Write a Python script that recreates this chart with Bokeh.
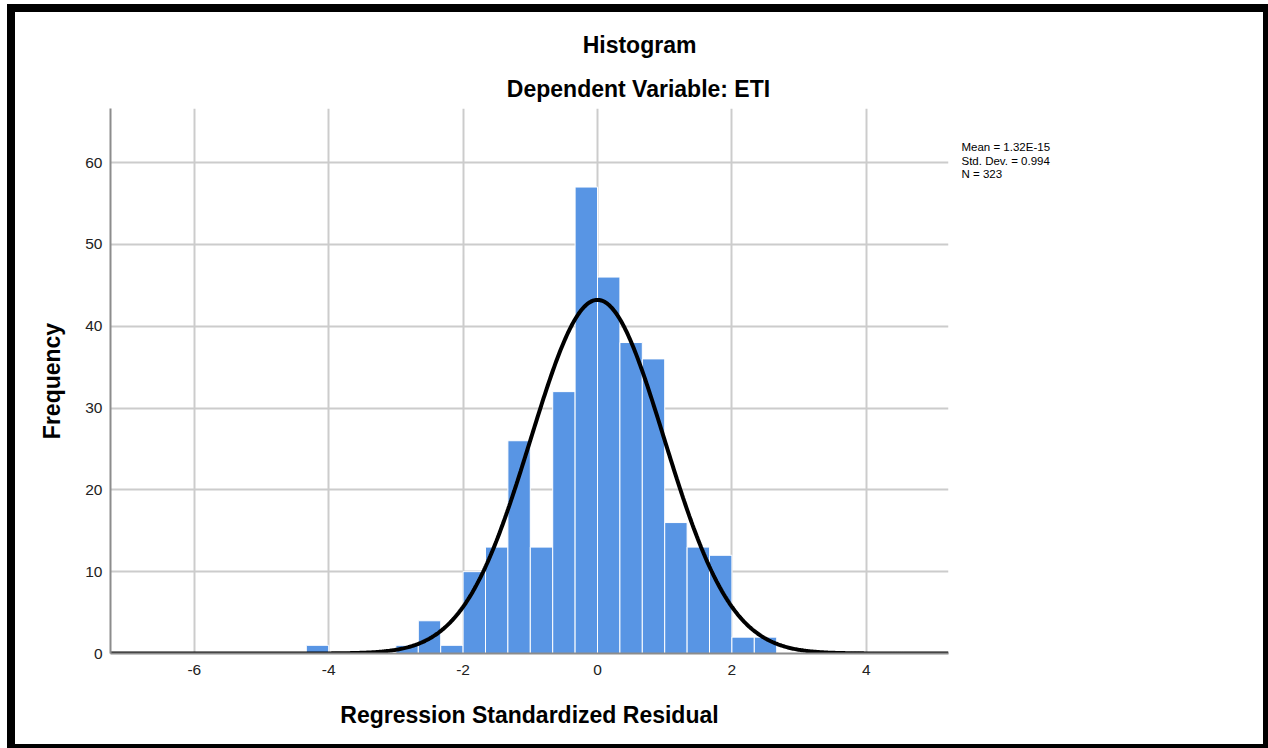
import numpy as np
from bokeh.plotting import figure
from bokeh.layouts import column, row
from bokeh.models import Range1d, FixedTicker, Label, PrintfTickFormatter
from bokeh.embed import file_html
from bokeh.resources import INLINE

# ---------------- data ----------------
bin_width = 1 / 3
bin_lefts = [-13/3, -3, -8/3, -7/3, -2, -5/3, -4/3, -1, -2/3, -1/3,
             0, 1/3, 2/3, 1, 4/3, 5/3, 2, 7/3]
counts = [1, 1, 4, 1, 10, 13, 26, 13, 32, 57, 46, 38, 36, 16, 13, 12, 2, 2]
mean = 1.32e-15
std_dev = 0.994
n_obs = 323
x_ticks = [-6, -4, -2, 0, 2, 4]
y_ticks = [0, 10, 20, 30, 40, 50, 60]
stats_lines = ["Mean = 1.32E-15", "Std. Dev. = 0.994", "N = 323"]
title_lines = ["Histogram", "Dependent Variable: ETI"]
x_label = "Regression Standardized Residual"
y_label = "Frequency"

X0, X1 = -7.247, 5.223
Y0, Y1 = 0.0, 66.6

FONT = "Liberation Sans"
W, H = 1268, 748
TOP_H = 108          # height of the title strip
MAIN_W = 960         # width of the main plot


def blank_fig(width, height, x0, x1, y0, y1):
    f = figure(width=width, height=height, output_backend="svg", toolbar_location=None,
               title=None, x_axis_type=None, y_axis_type=None,
               x_range=Range1d(x0, x1), y_range=Range1d(y1, y0),
               min_border=0)
    f.outline_line_color = None
    f.border_fill_alpha = 0
    f.background_fill_alpha = 0
    return f


# ---------------- title strip ----------------
tfig = blank_fig(W, TOP_H, 0, W, 0, TOP_H)
for txt, cx_px, base in [(title_lines[0], 639, 44.8), (title_lines[1], 638, 88.2)]:
    tfig.add_layout(Label(x=cx_px, y=base, text=txt, text_align="center",
                          text_baseline="alphabetic", text_font=FONT,
                          text_font_size="23px", text_font_style="bold",
                          text_color="black"))

# ---------------- main histogram ----------------
p = figure(width=MAIN_W, height=H - TOP_H, output_backend="svg", toolbar_location=None,
           title=None,
           x_range=Range1d(X0, X1), y_range=Range1d(Y0, Y1),
           min_border_left=110, min_border_right=12, min_border_top=0,
           min_border_bottom=95)
p.outline_line_color = None
p.background_fill_color = "white"
p.border_fill_alpha = 0

for g in (p.xgrid, p.ygrid):
    g.grid_line_color = "#cccccc"
    g.grid_line_width = 2
p.xgrid.ticker = FixedTicker(ticks=x_ticks)
p.ygrid.ticker = FixedTicker(ticks=y_ticks)

p.xaxis.ticker = FixedTicker(ticks=x_ticks)
p.yaxis.ticker = FixedTicker(ticks=y_ticks)
for ax in (p.xaxis[0], p.yaxis[0]):
    ax.formatter = PrintfTickFormatter(format="%d")
    ax.major_tick_line_color = None
    ax.minor_tick_line_color = None
    ax.axis_line_color = "#8c8c8c"
    ax.axis_line_width = 2
    ax.major_label_text_font = FONT
    ax.major_label_text_font_size = "15.5px"
    ax.major_label_text_color = "#222222"
    ax.axis_label_text_font = FONT
    ax.axis_label_text_font_size = "23px"
    ax.axis_label_text_font_style = "bold"
    ax.axis_label_text_color = "black"
p.xaxis.major_label_standoff = 5
p.yaxis.major_label_standoff = 2
p.xaxis.axis_label = x_label
p.yaxis.axis_label = y_label
p.xaxis.axis_label_standoff = 24
p.yaxis.axis_label_standoff = 17

bin_rights = [l + bin_width for l in bin_lefts]
p.quad(left=bin_lefts, right=bin_rights, bottom=0, top=counts,
       fill_color="#5895E4", line_color="white", line_width=1)

cx = np.linspace(X0, X1, 800)
cy = n_obs * bin_width * np.exp(-0.5 * ((cx - mean) / std_dev) ** 2) / (std_dev * np.sqrt(2 * np.pi))
p.line(cx, cy, line_color="black", line_width=4)

# ---------------- statistics text ----------------
sfig = blank_fig(W - MAIN_W, H - TOP_H, MAIN_W, W, TOP_H, H)
for i, s in enumerate(stats_lines):
    sfig.add_layout(Label(x=961, y=153.2 + 16 * i, text=s, text_align="left",
                          text_baseline="alphabetic", text_font=FONT,
                          text_font_size="11.5px", text_color="black"))

layout = column(
    tfig,
    row(p, sfig, spacing=0),
    spacing=0,
    styles={
        "background-color": "white",
        "box-shadow": ("inset 7px 4px 0 0 white, inset 15px 12px 0 0 black, "
                       "inset -5px -4px 0 0 black"),
    },
)

open("out.html", "w").write(file_html(layout, INLINE))
